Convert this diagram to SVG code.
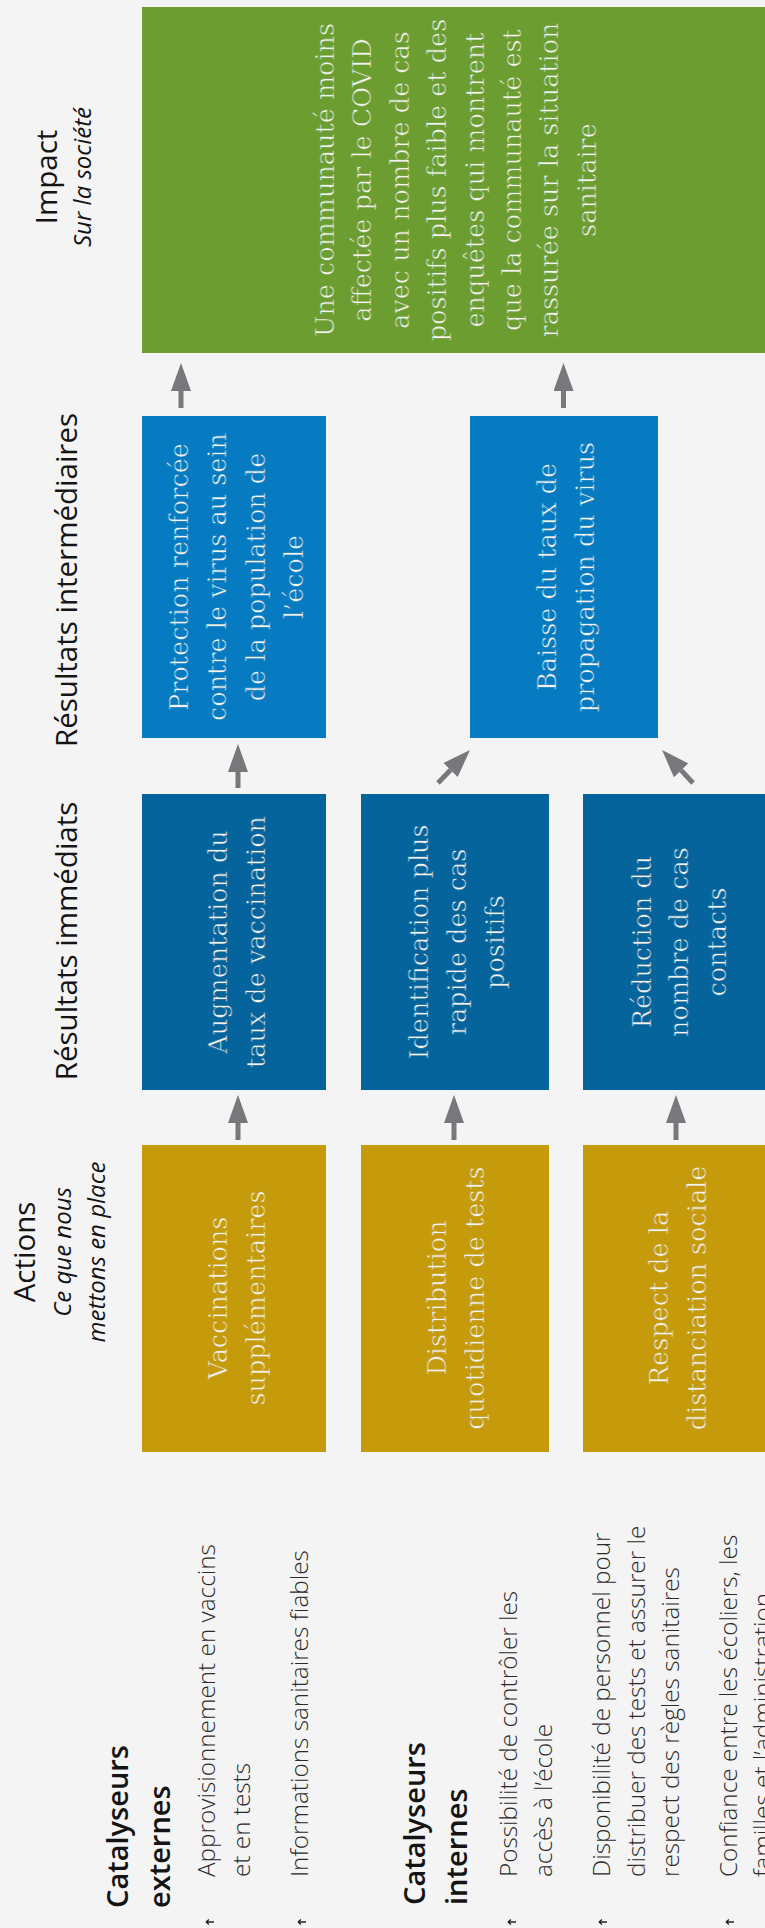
<svg xmlns="http://www.w3.org/2000/svg" width="765" height="1928" viewBox="0 0 765 1928">
<style>
.bg{fill:#f4f4f4}
.gold{fill:#c59a0b}
.dblue{fill:#05649c}
.lblue{fill:#067bc1}
.green{fill:#6b9d31}
.bt{font-family:"DejaVu Serif","Liberation Serif",serif;font-size:25.5px;fill:#f3f3ee;text-anchor:middle;stroke-width:0.6px}
.tg{stroke:#6b9d31}
.tl{stroke:#067bc1}
.td{stroke:#05649c}
.to{stroke:#c59a0b}
.hd{font-family:"Open Sans","Liberation Sans",sans-serif;font-size:29.5px;fill:#141414;text-anchor:middle}
.sub{font-family:"Open Sans","Liberation Sans",sans-serif;font-size:24px;font-style:italic;fill:#141414;text-anchor:middle}
.cat{font-family:"Open Sans","Liberation Sans",sans-serif;font-size:29px;font-weight:600;fill:#141414}
.li{font-family:"Open Sans","Liberation Sans",sans-serif;font-size:24.3px;font-weight:300;fill:#2a2a2a}
.arr{stroke:#77787b;stroke-width:5;fill:none}
.bul{stroke:#222;stroke-width:1.3;fill:none}
</style>
<defs>
<marker id="ah" markerUnits="userSpaceOnUse" markerWidth="28" markerHeight="20" refX="0" refY="10" orient="auto" viewBox="0 0 28 20">
<path d="M0,0 L28,10 L0,20 z" fill="#77787b"/>
</marker>
</defs>
<rect class="bg" x="0" y="0" width="765" height="1928"/>

<g id="headers">
<text class="hd" transform="translate(57,177) rotate(-90)">Impact</text>
<text class="sub" transform="translate(91,177) rotate(-90)">Sur la société</text>
<text class="hd" transform="translate(77,580) rotate(-90)">Résultats intermédiaires</text>
<text class="hd" transform="translate(77,941) rotate(-90)">Résultats immédiats</text>
<text class="hd" transform="translate(35,1252) rotate(-90)">Actions</text>
<text class="sub" transform="translate(71,1252) rotate(-90)">Ce que nous</text>
<text class="sub" transform="translate(105,1252) rotate(-90)">mettons en place</text>
</g>

<g id="impact">
<rect class="green" x="142" y="7" width="623" height="346"/>
<g transform="translate(0,180)">
<text class="bt tg" transform="translate(334,0) rotate(-90)">Une communauté moins</text>
<text class="bt tg" transform="translate(371.4,0) rotate(-90)">affectée par le COVID</text>
<text class="bt tg" transform="translate(408.8,0) rotate(-90)">avec un nombre de cas</text>
<text class="bt tg" transform="translate(446.2,0) rotate(-90)">positifs plus faible et des</text>
<text class="bt tg" transform="translate(483.6,0) rotate(-90)">enquêtes qui montrent</text>
<text class="bt tg" transform="translate(521,0) rotate(-90)">que la communauté est</text>
<text class="bt tg" transform="translate(558.4,0) rotate(-90)">rassurée sur la situation</text>
<text class="bt tg" transform="translate(595.8,0) rotate(-90)">sanitaire</text>
</g>
</g>

<g id="inter1">
<rect class="lblue" x="142" y="416" width="184" height="322"/>
<g transform="translate(0,577)">
<text class="bt tl" transform="translate(188.3,0) rotate(-90)">Protection renforcée</text>
<text class="bt tl" transform="translate(226.4,0) rotate(-90)">contre le virus au sein</text>
<text class="bt tl" transform="translate(264.5,0) rotate(-90)">de la population de</text>
<text class="bt tl" transform="translate(302.6,0) rotate(-90)">l’école</text>
</g>
</g>

<g id="inter2">
<rect class="lblue" x="470" y="416" width="188" height="322"/>
<g transform="translate(0,577)">
<text class="bt tl" transform="translate(556,0) rotate(-90)">Baisse du taux de</text>
<text class="bt tl" transform="translate(594,0) rotate(-90)">propagation du virus</text>
</g>
</g>

<g id="imm1">
<rect class="dblue" x="142" y="794" width="184" height="296"/>
<g transform="translate(0,942)">
<text class="bt td" transform="translate(227,0) rotate(-90)">Augmentation du</text>
<text class="bt td" transform="translate(265,0) rotate(-90)">taux de vaccination</text>
</g>
</g>

<g id="imm2">
<rect class="dblue" x="361" y="794" width="188" height="296"/>
<g transform="translate(0,942)">
<text class="bt td" transform="translate(428,0) rotate(-90)">Identification plus</text>
<text class="bt td" transform="translate(466,0) rotate(-90)">rapide des cas</text>
<text class="bt td" transform="translate(504,0) rotate(-90)">positifs</text>
</g>
</g>

<g id="imm3">
<rect class="dblue" x="583" y="794" width="184" height="296"/>
<g transform="translate(0,942)">
<text class="bt td" transform="translate(651,0) rotate(-90)">Réduction du</text>
<text class="bt td" transform="translate(688,0) rotate(-90)">nombre de cas</text>
<text class="bt td" transform="translate(726,0) rotate(-90)">contacts</text>
</g>
</g>

<g id="act1">
<rect class="gold" x="142" y="1145" width="184" height="307"/>
<g transform="translate(0,1298)">
<text class="bt to" transform="translate(227,0) rotate(-90)">Vaccinations</text>
<text class="bt to" transform="translate(265,0) rotate(-90)">supplémentaires</text>
</g>
</g>

<g id="act2">
<rect class="gold" x="361" y="1145" width="188" height="307"/>
<g transform="translate(0,1298)">
<text class="bt to" transform="translate(446,0) rotate(-90)">Distribution</text>
<text class="bt to" transform="translate(484,0) rotate(-90)">quotidienne de tests</text>
</g>
</g>

<g id="act3">
<rect class="gold" x="583" y="1145" width="184" height="307"/>
<g transform="translate(0,1298)">
<text class="bt to" transform="translate(668,0) rotate(-90)">Respect de la</text>
<text class="bt to" transform="translate(706,0) rotate(-90)">distanciation sociale</text>
</g>
</g>

<g id="connectors">
<line class="arr" x1="238" y1="1140" x2="238" y2="1123" marker-end="url(#ah)"/>
<line class="arr" x1="454" y1="1140" x2="454" y2="1123" marker-end="url(#ah)"/>
<line class="arr" x1="676" y1="1140" x2="676" y2="1123" marker-end="url(#ah)"/>
<line class="arr" x1="238" y1="788" x2="238" y2="772" marker-end="url(#ah)"/>
<line class="arr" x1="438" y1="783" x2="450.5" y2="770.1" marker-end="url(#ah)"/>
<line class="arr" x1="693" y1="783" x2="681.2" y2="770.4" marker-end="url(#ah)"/>
<line class="arr" x1="181" y1="408" x2="181" y2="391" marker-end="url(#ah)"/>
<line class="arr" x1="563.5" y1="408" x2="563.5" y2="391" marker-end="url(#ah)"/>
</g>

<g id="catalyseurs-externes">
<text class="cat" transform="translate(128,1908) rotate(-90)">Catalyseurs</text>
<text class="cat" transform="translate(170,1908) rotate(-90)">externes</text>
</g>
<g id="ext1">
<path class="bul" d="M206,1922 H214 M206,1922 l3,-2.5 M206,1922 l3,2.5"/>
<text class="li" transform="translate(215,1877) rotate(-90)">Approvisionnement en vaccins</text>
<text class="li" transform="translate(250,1877) rotate(-90)">et en tests</text>
</g>
<g id="ext2">
<path class="bul" d="M298,1922 H306 M298,1922 l3,-2.5 M298,1922 l3,2.5"/>
<text class="li" transform="translate(308,1877) rotate(-90)">Informations sanitaires fiables</text>
</g>
<g id="catalyseurs-internes">
<text class="cat" transform="translate(425,1905) rotate(-90)">Catalyseurs</text>
<text class="cat" transform="translate(467,1905) rotate(-90)">internes</text>
</g>
<g id="int1">
<path class="bul" d="M508,1922 H516 M508,1922 l3,-2.5 M508,1922 l3,2.5"/>
<text class="li" transform="translate(517,1877) rotate(-90)">Possibilité de contrôler les</text>
<text class="li" transform="translate(552,1877) rotate(-90)">accès à l’école</text>
</g>
<g id="int2">
<path class="bul" d="M599,1922 H607 M599,1922 l3,-2.5 M599,1922 l3,2.5"/>
<text class="li" transform="translate(610,1877) rotate(-90)">Disponibilité de personnel pour</text>
<text class="li" transform="translate(645,1877) rotate(-90)">distribuer des tests et assurer le</text>
<text class="li" transform="translate(679,1877) rotate(-90)">respect des règles sanitaires</text>
</g>
<g id="int3">
<path class="bul" d="M726,1922 H734 M726,1922 l3,-2.5 M726,1922 l3,2.5"/>
<text class="li" transform="translate(737,1877) rotate(-90)">Confiance entre les écoliers, les</text>
<text class="li" transform="translate(771,1877) rotate(-90)">familles et l’administration</text>
</g>
</svg>
